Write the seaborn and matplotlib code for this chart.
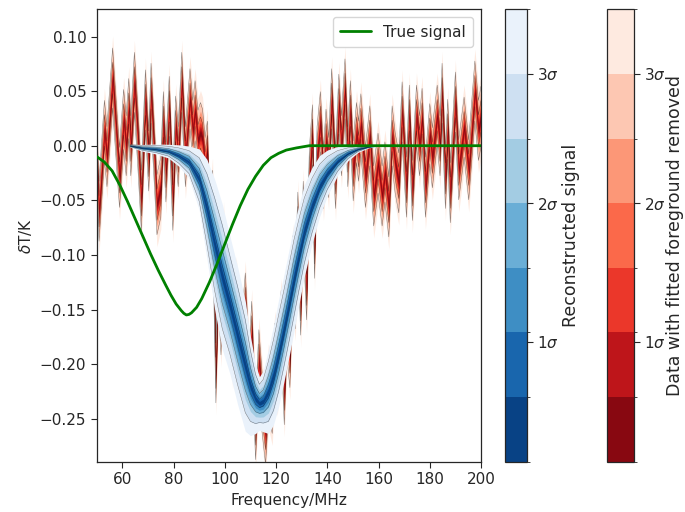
import matplotlib
matplotlib.use("Agg")
import matplotlib.pyplot as plt
import seaborn as sns
import numpy as np
from matplotlib.colors import ListedColormap, BoundaryNorm
from matplotlib.cm import ScalarMappable

# ---- data: noisy data with fitted foreground removed (median, MHz / K) ----
data_freq = [50.0, 50.9, 53.0, 54.0, 56.2, 58.0, 58.9, 60.5, 61.5, 62.5, 63.3, 64.7,
             66.0, 67.4, 69.0, 70.3, 71.2, 72.3, 73.5, 75.0, 76.0, 77.0, 78.3, 79.7,
             80.8, 81.8, 83.2, 84.6, 86.4, 87.5, 88.4, 89.5, 90.5, 91.3, 92.3, 93.2,
             94.0, 95.2, 96.5, 97.5, 98.5, 99.5, 100.5, 102.0, 103.0, 104.5, 106.0, 108.0,
             109.5, 110.5, 112.0, 113.3, 114.5, 115.9, 117.0, 118.5, 119.5, 120.5, 122.0,
             123.2, 124.2, 125.4, 126.5, 127.5, 128.5, 129.6, 130.6, 131.9, 133.0, 134.2,
             135.0, 136.0, 137.3, 138.5, 139.5, 140.5, 141.7, 143.2, 144.5, 145.5, 146.9,
             148.0, 149.0, 150.1, 151.4, 152.2, 153.1, 154.9, 156.6, 158.1, 159.8, 161.4,
             162.5, 164.0, 165.3, 166.5, 167.9, 169.2, 170.9, 172.0, 173.2, 174.8, 176.0,
             177.0, 178.3, 180.0, 181.0, 182.9, 184.0, 184.8, 186.1, 187.0, 188.0, 190.0,
             191.3, 193.4, 195.2, 197.6, 199.0, 200.0]
data_val = [-0.010, -0.060, 0.014, -0.010, 0.062, 0.000, -0.029, 0.024, 0.000, 0.034, 0.000, 0.058,
            0.010, -0.050, 0.042, -0.014, 0.048, 0.000, -0.054, -0.038, 0.022, -0.024, 0.036, -0.050,
            0.018, -0.010, 0.058, -0.010, 0.043, 0.014, 0.032, 0.005, 0.012, 0.006, -0.020, -0.005,
            -0.080, -0.050, -0.208, -0.120, -0.164, -0.090, -0.150, -0.120, -0.184, -0.140, -0.204, -0.144,
            -0.214, -0.170, -0.260, -0.196, -0.234, -0.264, -0.220, -0.236, -0.190, -0.209, -0.160,
            -0.228, -0.165, -0.194, -0.110, -0.140, -0.070, -0.146, -0.060, -0.132, -0.030, 0.010,
            -0.094, -0.010, 0.022, -0.030, 0.006, -0.020, 0.043, -0.030, 0.038, 0.000, 0.052,
            -0.010, 0.032, -0.023, 0.012, -0.005, 0.020, -0.029, 0.009, -0.046, -0.016, -0.046,
            -0.024, -0.056, 0.009, -0.016, -0.034, 0.031, -0.038, 0.028, -0.041, 0.028, 0.000,
            0.025, -0.038, 0.011, -0.011, 0.028, 0.000, 0.048, -0.030, 0.015, -0.043, 0.040,
            -0.022, 0.017, -0.022, 0.050, 0.014, 0.027]
data_sigma = 0.011

# ---- reconstructed signal (median and 1-sigma width) ----
sig_freq = [63, 68, 73, 78, 82, 86, 90, 93, 96, 99, 102, 105, 108, 110, 112, 113.5,
            115, 117, 119, 121, 123, 125, 127, 129, 131, 134, 137, 140, 144, 148, 152, 156, 160]
sig_val = [0.000, -0.002, -0.003, -0.005, -0.009, -0.015, -0.031, -0.058, -0.090, -0.120,
           -0.146, -0.174, -0.202, -0.220, -0.232, -0.236, -0.234, -0.225, -0.210, -0.190,
           -0.168, -0.145, -0.121, -0.099, -0.078, -0.055, -0.037, -0.025, -0.014, -0.007,
           -0.003, -0.001, 0.000]
sig_width = [0.0004, 0.0009, 0.0013, 0.0018, 0.0028, 0.0042, 0.008, 0.013, 0.017, 0.019,
             0.018, 0.018, 0.017, 0.013, 0.009, 0.007, 0.008, 0.011, 0.013, 0.014,
             0.014, 0.014, 0.014, 0.013, 0.012, 0.010, 0.008, 0.006, 0.0038, 0.002,
             0.0009, 0.0003, 0.0001]

# ---- true signal ----
true_freq = [50, 53, 56, 59, 62, 65, 68, 71, 74, 77, 79, 81, 83, 84, 85, 86, 87, 89, 91,
             94, 97, 100, 103, 106, 109, 112, 115, 118, 121, 124, 128, 133, 200]
true_val = [-0.010, -0.015, -0.023, -0.036, -0.051, -0.067, -0.083, -0.099, -0.114, -0.128,
            -0.137, -0.145, -0.151, -0.1535, -0.155, -0.1545, -0.153, -0.148, -0.140,
            -0.125, -0.108, -0.090, -0.072, -0.055, -0.040, -0.028, -0.018, -0.011,
            -0.007, -0.004, -0.002, 0.000, 0.000]

sigma_levels = [0.5, 1.0, 1.5, 2.0, 2.5, 3.0, 3.5]
cbar_ticks = [0.93, 2.0, 3.0]
cbar_ticklabels = [r'$1\sigma$', r'$2\sigma$', r'$3\sigma$']

# style: half-width multipliers of each band (inner -> outer)
band_scale = [0.25, 0.55, 0.9, 1.3, 1.8, 2.5, 3.5]

sns.set_style("ticks")
plt.rcParams['font.family'] = ['DejaVu Sans']
plt.rcParams['font.size'] = 11
plt.rcParams['mathtext.fontset'] = 'dejavusans'

fig = plt.figure(figsize=(6.85, 5.12), dpi=100)
ax = fig.add_axes([0.1412, 0.0982, 0.5610, 0.8836])

pos = [0.93, 0.79, 0.64, 0.50, 0.36, 0.21, 0.07]
blues = [plt.cm.Blues(p) for p in pos]   # inner -> outer
reds = [plt.cm.Reds(p) for p in pos]


def draw_bands(freq, centre, width, colors, z, line_levels, line_alpha):
    freq = np.asarray(freq, float)
    centre = np.asarray(centre, float)
    width = np.asarray(width, float) * np.ones_like(centre)
    for i in range(len(band_scale) - 1, -1, -1):
        k = band_scale[i]
        ax.fill_between(freq, centre - k * width, centre + k * width,
                        color=colors[i], lw=0, zorder=z)
    for k in line_levels:
        for s in (-1, 1):
            ax.plot(freq, centre + s * k * width, color='black', lw=0.35,
                    alpha=line_alpha, zorder=z + 0.1)


draw_bands(data_freq, data_val, data_sigma, reds, 1, (band_scale[3], band_scale[5]), 0.5)
draw_bands(sig_freq, sig_val, sig_width, blues, 2,
           (band_scale[1], band_scale[3], band_scale[5]), 0.5)

sns.lineplot(x=true_freq, y=true_val, ax=ax, color='green', lw=2,
             label='True signal', zorder=5)

ax.set_xlim(50, 200)
ax.set_ylim(-0.2894, 0.1249)
ax.set_xticks([60, 80, 100, 120, 140, 160, 180, 200])
ax.set_yticks([-0.25, -0.20, -0.15, -0.10, -0.05, 0.00, 0.05, 0.10])
ax.set_yticklabels(['\u22120.25', '\u22120.20', '\u22120.15', '\u22120.10',
                    '\u22120.05', '0.00', '0.05', '0.10'])
ax.set_xlabel('Frequency/MHz', fontsize=11)
ax.set_ylabel(r'$\delta$T/K', fontsize=11)
ax.tick_params(labelsize=11, direction='out', length=4)
for sp in ax.spines.values():
    sp.set_linewidth(0.9)
ax.legend(loc='upper right', fontsize=11, frameon=True, borderpad=0.5)

bounds = [0, 0.5, 1.0, 1.5, 2.0, 2.5, 3.0, 3.5]


def make_cbar(rect, colors, label, pad):
    cax = fig.add_axes(rect)
    sm = ScalarMappable(norm=BoundaryNorm(bounds, 7),
                        cmap=ListedColormap(colors))
    cb = fig.colorbar(sm, cax=cax, ticks=cbar_ticks, spacing='uniform')
    cb.set_ticklabels(cbar_ticklabels)
    cb.ax.tick_params(labelsize=11, length=4)
    cb.set_label(label, fontsize=12.5, labelpad=pad)
    cb.outline.set_linewidth(0.9)
    return cb


make_cbar([0.7372, 0.0982, 0.0321, 0.8836], blues, 'Reconstructed signal', 2)
make_cbar([0.8861, 0.0982, 0.0394, 0.8836], reds, 'Data with fitted foreground removed', 0)

fig.savefig('out.png', dpi=100)
